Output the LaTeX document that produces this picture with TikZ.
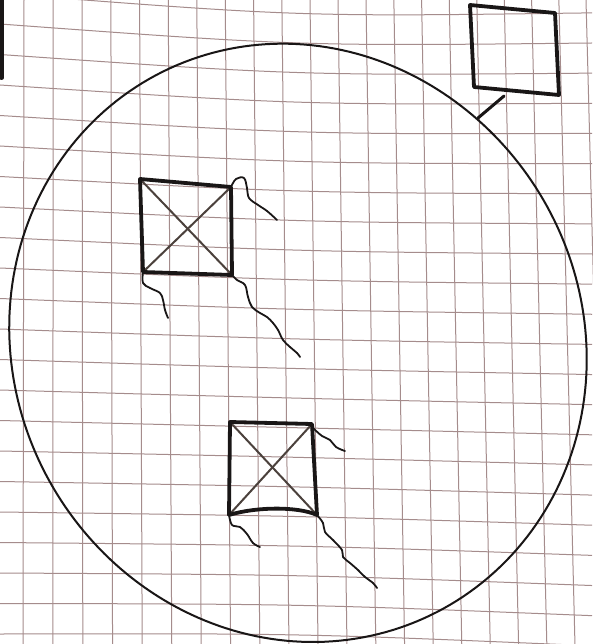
\documentclass[tikz,border=0pt]{standalone}
\definecolor{gridc}{RGB}{165,140,140}
\definecolor{ink}{RGB}{25,22,22}
\definecolor{pencil}{RGB}{75,65,60}
\tikzset{
  gridline/.style={draw=gridc, line width=1pt},
  circ/.style={draw=ink, line width=2pt, line join=round},
  boxline/.style={draw=ink, line width=3.8pt, line join=round, line cap=round},
  diagline/.style={draw=pencil, line width=2pt, line cap=round},
  tail/.style={draw=ink, line width=1.8pt, line cap=round, line join=round},
  stub/.style={draw=ink, line width=3pt, line cap=round},
}
\begin{document}
\begin{tikzpicture}[x=1pt,y=-1pt]
\useasboundingbox (0,0) rectangle (592,644);
\fill[white] (0,0) rectangle (592,644);
% horizontal grid lines
\foreach \j in {-1,...,21}{
  \pgfmathsetmacro{\ya}{24+30.5*\j}
  \pgfmathsetmacro{\yb}{43+29.6*\j}
  \pgfmathsetmacro{\yc}{43+30.14*\j}
  \pgfmathsetmacro{\cy}{(\yb-0.125*(\ya+\yc))/0.75}
  \draw[gridline] (0,\ya) .. controls (301.3,\cy) .. (592,\yc);
}
% vertical grid lines
\foreach \k in {0,...,20}{
  \pgfmathsetmacro{\xa}{24+29.1*\k-0.05*\k*\k}
  \pgfmathsetmacro{\xb}{23+30.0*\k-0.05*\k*\k}
  \draw[gridline] (\xa,0) -- (\xb,644);
}
% black mark at top-left edge
\draw[ink, line width=4pt, line cap=round] (1.5,0) -- (1.5,78);
% big hand-drawn circle
\draw[circ] plot[domain=0:360, samples=240, variable=\t]
  ({301 + (289*cos(\t)*0.99905 - 298*sin(\t)*0.04362)*(1+0.028*sin(2*\t)+0.015*cos(\t-135))},
   {340 + (289*cos(\t)*0.04362 + 298*sin(\t)*0.99905)*(1+0.028*sin(2*\t)+0.015*cos(\t-135))}) -- cycle;
% top-right square with stub
\coordinate (sA) at (470,5);
\coordinate (sB) at (555,13);
\coordinate (sC) at (559,95);
\coordinate (sD) at (474,87);
\draw[boxline] (sA) -- (sB) -- (sC) -- (sD) -- cycle;
\coordinate (st1) at (478,118);
\coordinate (st2) at (504,96);
\draw[stub] (st1) -- (st2);
% upper kite
\coordinate (ua) at (140,179);
\coordinate (ub) at (231,187);
\coordinate (uc) at (232,275);
\coordinate (ud) at (143,272);
\draw[diagline] (ua) -- (uc);
\draw[diagline] (ub) -- (ud);
\draw[boxline] (ua) -- (ub) -- (uc) -- (ud) -- cycle;
\draw[tail] plot[smooth, tension=0.6] coordinates {(ub) (236,179) (244,178) (247,188) (249,198) (258,205) (267,211) (277,220)};
\draw[tail] plot[smooth, tension=0.6] coordinates {(ud) (143,283) (150,288) (160,293) (163,300) (165,310) (168,318)};
\draw[tail] plot[smooth, tension=0.6] coordinates {(uc) (237,280) (245,285) (248,297) (252,307) (260,313) (267,317) (273,323) (278,330) (283,340) (290,347) (297,353) (300,357)};
% lower kite
\coordinate (la) at (230,422);
\coordinate (lb) at (312,424);
\coordinate (lc) at (317,515);
\coordinate (ld) at (229,515);
\draw[diagline] (la) -- (lc);
\draw[diagline] (lb) -- (ld);
\draw[boxline] (ld) -- (la) -- (lb) -- (lc) .. controls (297,506) and (255,507) .. (ld);
\draw[tail] plot[smooth, tension=0.6] coordinates {(313,428) (322,436) (330,440) (336,447) (345,451)};
\draw[tail] plot[smooth, tension=0.6] coordinates {(ld) (232,525) (240,527) (247,534) (253,543) (260,547)};
\draw[tail] plot[smooth, tension=0.6] coordinates {(lc) (323,523) (325,532) (333,540) (342,550) (343,557) (350,563) (358,570) (365,577) (373,583) (377,588)};
\end{tikzpicture}
\end{document}
